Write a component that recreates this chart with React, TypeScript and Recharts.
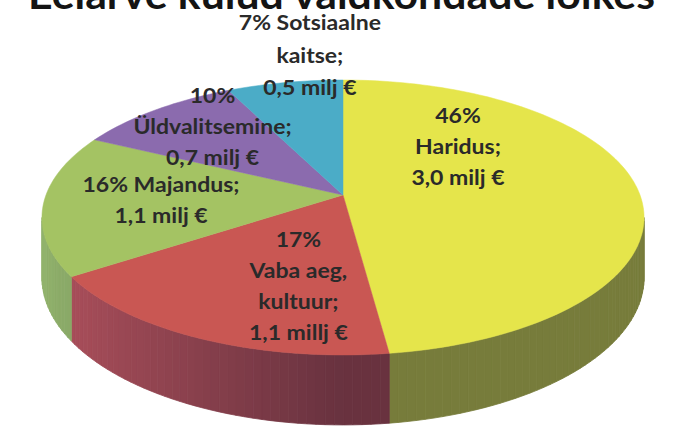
import React from "react";
import { PieChart, Pie, Cell } from "recharts";

// budget expenses by area
const categories = ["Haridus", "Vaba aeg, kultuur", "Majandus", "Üldvalitsemine", "Sotsiaalne kaitse"];
const shares = [46, 17, 16, 10, 7];
const amounts = ["3,0 milj €", "1,1 millj €", "1,1 milj €", "0,7 milj €", "0,5 milj €"];
const labelLines = [
    [`${shares[0]}%`, "Haridus;", amounts[0]],
    [`${shares[1]}%`, "Vaba aeg,", "kultuur;", amounts[1]],
    [`${shares[2]}% Majandus;`, amounts[2]],
    [`${shares[3]}%`, "Üldvalitsemine;", amounts[3]],
    [`${shares[4]}% Sotsiaalne`, "kaitse;", amounts[4]],
];
const colors = ["#e5e54b", "#c95753", "#a4c363", "#8b6bae", "#4bacc7"];
const title = "Eelarve kulud valdkondade lõikes";

const data = categories.map((name, i) => ({ name, value: shares[i] }));

// fake 3D: tilted disc with a bit of perspective
const TILT_Y = 0.4505;
const PERSP = 0.1636;
const DEPTH = 0.197;
const FRONT_HI = -(Math.asin(PERSP) * 180) / Math.PI;
const FRONT_LO = -180 - FRONT_HI;

// where Excel put each label: shift from the slice middle (deg) and radius fraction
const LABEL_SHIFT = [39, 12, 0, -4, -7];
const LABEL_R = [0.56, 0.63, 0.61, 0.73, 1.26];
const LINE_H = 31;
const TEXT_SX = 1.15;

const project = (cx: number, cy: number, R: number, phi: number, r: number, z: number) => {
    const rad = (phi * Math.PI) / 180;
    const u = r * Math.cos(rad);
    const v = r * Math.sin(rad);
    const s = 1 / (1 + PERSP * v);
    return [cx + R * u * s, cy - R * TILT_Y * v * s + R * DEPTH * z * s];
};

const shade = (hex: string, phi: number) => {
    const f = 0.52 + 0.38 * Math.max(0, -Math.cos((phi * Math.PI) / 180));
    const n = parseInt(hex.slice(1), 16);
    const r = Math.round(((n >> 16) & 255) * f);
    const g = Math.round(((n >> 8) & 255) * f + 5);
    const b = Math.min(255, Math.round((n & 255) * f + 20));
    return `rgb(${r},${g},${b})`;
};

const TopFace = (p: any) => {
    const { cx, cy, outerRadius, startAngle, endAngle, fill } = p;
    const pts = [`${cx},${cy}`];
    const n = Math.max(2, Math.ceil(Math.abs(endAngle - startAngle) / 1.5));
    for (let i = 0; i <= n; i++) {
        const a = startAngle + ((endAngle - startAngle) * i) / n;
        const [x, y] = project(cx, cy, outerRadius, a, 1, 0);
        pts.push(`${x},${y}`);
    }
    return <polygon points={pts.join(" ")} fill={fill} stroke={fill} strokeWidth={0.5} />;
};

const SideFace = (p: any) => {
    const { cx, cy, outerRadius, startAngle, endAngle, fill } = p;
    const lo = Math.min(startAngle, endAngle);
    const hi = Math.max(startAngle, endAngle);
    const quads: React.ReactNode[] = [];
    for (const shift of [-360, 0, 360]) {
        const a0 = Math.max(lo + shift, FRONT_LO);
        const a1 = Math.min(hi + shift, FRONT_HI);
        if (a1 <= a0) continue;
        const n = Math.ceil((a1 - a0) / 1.5);
        for (let i = 0; i < n; i++) {
            const b0 = a0 + ((a1 - a0) * i) / n;
            const b1 = a0 + ((a1 - a0) * (i + 1)) / n;
            const q = [
                project(cx, cy, outerRadius, b0, 1, 0),
                project(cx, cy, outerRadius, b1, 1, 0),
                project(cx, cy, outerRadius, b1, 1, 1),
                project(cx, cy, outerRadius, b0, 1, 1),
            ];
            const c = shade(fill, (b0 + b1) / 2);
            quads.push(
                <polygon
                    key={`${shift}-${i}`}
                    points={q.map((pt) => pt.join(",")).join(" ")}
                    fill={c}
                    stroke={c}
                    strokeWidth={0.8}
                />
            );
        }
    }
    return <g>{quads}</g>;
};

const renderLabel = (p: any) => {
    const { cx, cy, outerRadius, midAngle, index } = p;
    const [x, y] = project(cx, cy, outerRadius, midAngle + LABEL_SHIFT[index], LABEL_R[index], 0);
    const lines = labelLines[index];
    const lh = index === 4 ? LINE_H + 1.5 : LINE_H;
    const top = -((lines.length - 1) * lh) / 2;
    return (
        <g transform={`translate(${x},${y}) scale(${TEXT_SX},1)`}>
            <text
                textAnchor="middle"
                fontFamily="Lato, 'Open Sans', sans-serif"
                fontWeight={700}
                fontSize={20}
                fill="#2a2a2a"
            >
                {lines.map((l, i) => (
                    <tspan key={i} x={0} y={top + i * lh} dy="0.35em">
                        {l}
                    </tspan>
                ))}
            </text>
        </g>
    );
};

export default function App() {
    return (
        <div
            style={{
                position: "fixed",
                left: 0,
                top: 0,
                width: 681,
                height: 432,
                background: "#fff",
                overflow: "hidden",
            }}
        >
            <PieChart width={681} height={432} margin={{ top: 0, right: 0, bottom: 0, left: 0 }}>
                <Pie
                    data={data}
                    dataKey="value"
                    nameKey="name"
                    cx={343}
                    cy={195}
                    outerRadius={297}
                    startAngle={90}
                    endAngle={-270}
                    stroke="none"
                    isAnimationActive={false}
                    shape={SideFace}
                    activeShape={SideFace}
                    inactiveShape={SideFace}
                >
                    {data.map((d, i) => (
                        <Cell key={d.name} fill={colors[i]} />
                    ))}
                </Pie>
                <Pie
                    data={data}
                    dataKey="value"
                    nameKey="name"
                    cx={343}
                    cy={195}
                    outerRadius={297}
                    startAngle={90}
                    endAngle={-270}
                    stroke="none"
                    isAnimationActive={false}
                    shape={TopFace}
                    activeShape={TopFace}
                    inactiveShape={TopFace}
                    label={renderLabel}
                    labelLine={false}
                >
                    {data.map((d, i) => (
                        <Cell key={d.name} fill={colors[i]} />
                    ))}
                </Pie>
            </PieChart>
            <svg width={681} height={40} style={{ position: "absolute", left: 0, top: 0 }}>
                <text
                    x={28}
                    y={9}
                    textLength={627}
                    lengthAdjust="spacingAndGlyphs"
                    fontFamily="Lato, 'Open Sans', sans-serif"
                    fontWeight={700}
                    fontSize={40}
                    fill="#141414"
                >
                    {title}
                </text>
            </svg>
        </div>
    );
}
